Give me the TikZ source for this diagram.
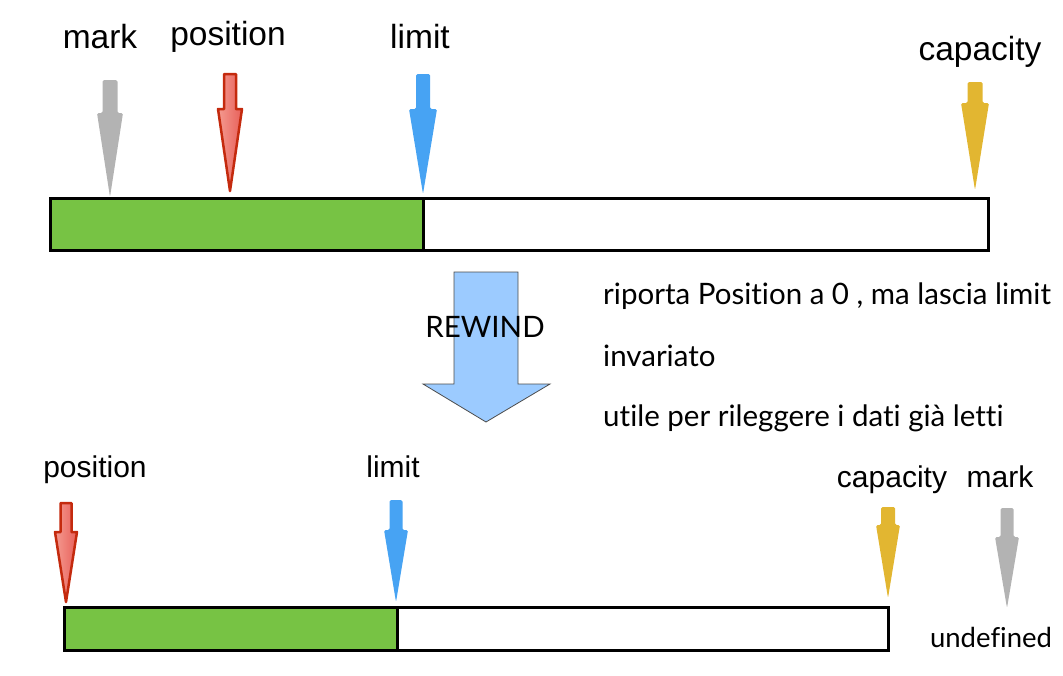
\documentclass[tikz,border=0pt]{standalone}
\usepackage{fontspec}
\setmainfont{Liberation Sans}
\newfontfamily\gillish[Ligatures=NoCommon]{Lato}
\definecolor{cgray}{HTML}{B3B3B3}
\definecolor{cblue}{HTML}{47A3F3}
\definecolor{cyellow}{HTML}{E2B631}
\definecolor{cgreen}{HTML}{77C344}
\definecolor{credline}{HTML}{C42A0E}
\definecolor{credlight}{HTML}{F49A90}
\definecolor{credmid}{HTML}{E8605A}
\definecolor{crewind}{HTML}{9CCBFF}
\newcommand{\bufarrow}[7]{%
  \path[#1] ({#2-#6},#3) -- ({#2+#6},#3) -- ({#2+#6},#4) -- ({#2+#7},#4) -- (#2,#5) -- ({#2-#7},#4) -- ({#2-#6},#4) -- cycle;}
\begin{document}
\begin{tikzpicture}[x=1pt,y=-1pt,
  lbl/.style={font=\fontsize{33.5}{38}\selectfont, anchor=base, inner sep=0pt},
  lblb/.style={font=\fontsize{30}{34}\selectfont, anchor=base, inner sep=0pt},
  txt/.style={font=\gillish\fontsize{29.5}{33}\selectfont, anchor=base west, inner sep=0pt},
  grayar/.style={fill=cgray, rounded corners=1.5pt},
  bluear/.style={fill=cblue, rounded corners=1.5pt},
  yellowar/.style={fill=cyellow, rounded corners=1.5pt},
  redar/.style={left color=credlight, right color=credmid, draw=credline, line width=2.5pt, line join=round},
  barline/.style={draw=black, line width=3pt},
  rewindar/.style={fill=crewind, draw=black!70, line width=0.8pt}]
\useasboundingbox (0,0) rectangle (1063,675);

% ---- top buffer ----
\fill[cgreen] (50,198) rectangle (423,250);
\draw[barline] (50,198) rectangle (988,250);
\draw[barline] (423,198) -- (423,250);

\bufarrow{grayar}{110}{80}{113}{197}{7.5}{13}
\bufarrow{redar}{230}{74}{109}{191}{6}{12}
\bufarrow{bluear}{423}{74}{109}{194}{7}{14}
\bufarrow{yellowar}{975}{82}{103}{190}{7.5}{14}

\node[lbl] (tmark) at (100,48) {mark};
\node[lbl] (tpos) at (228,45) {position};
\node[lbl] (tlim) at (420,48) {limit};
\node[lbl] (tcap) at (980,60) {capacity};

% ---- rewind ----
\path[rewindar] (454,272) -- (518,272) -- (518,384) -- (550,384) -- (486,422) -- (423,384) -- (454,384) -- cycle;
\node[font=\gillish\fontsize{29.5}{32}\selectfont, anchor=base, inner sep=0pt] (rew) at (485,337) {REWIND};

\node[txt] (t1) at (603,304) {riporta Position a 0 , ma lascia limit};
\node[txt] (t2) at (603,366) {invariato};
\node[txt] (t3) at (603,426) {utile per rileggere i dati già letti};

% ---- bottom buffer ----
\fill[cgreen] (64,607) rectangle (397,650);
\draw[barline] (64,607) rectangle (888,650);
\draw[barline] (397,607) -- (397,650);

\bufarrow{redar}{66}{503}{532}{602}{5.5}{11}
\bufarrow{bluear}{396}{500}{530}{602}{6.5}{12}
\bufarrow{yellowar}{888}{507}{525}{598}{7}{12}
\bufarrow{grayar}{1007}{508}{537}{608}{6.5}{12}

\node[lblb] (bpos) at (95,477) {position};
\node[lblb] (blim) at (393,477) {limit};
\node[lblb] (bcap) at (892,487) {capacity};
\node[lblb] (bmark) at (1000,487) {mark};
\node[txt, anchor=base, font=\gillish\fontsize{27.5}{30}\selectfont] (undef) at (991,647) {undefined};
\end{tikzpicture}
\end{document}
